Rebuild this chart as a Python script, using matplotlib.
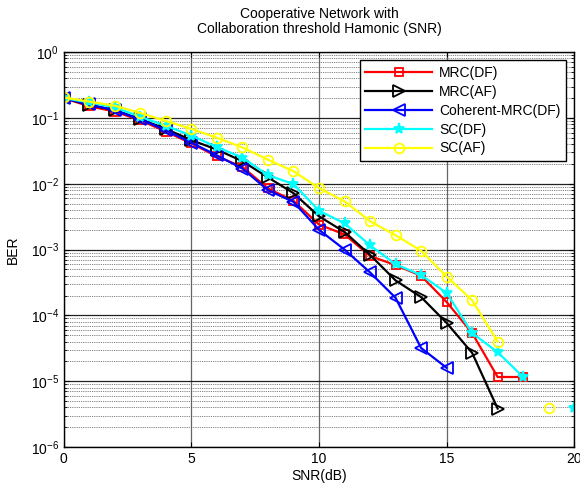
import numpy as np
import matplotlib
matplotlib.use("Agg")
import matplotlib.pyplot as plt
from matplotlib.ticker import LogLocator, NullFormatter

plt.rcParams['font.family'] = ['Liberation Sans', 'DejaVu Sans']

snr = np.arange(0, 21)
nan = np.nan

# BER curves (nan = no point drawn)
mrc_df = [0.2, 0.15, 0.125, 0.092, 0.062, 0.041, 0.026, 0.018, 0.0085, 0.0055,
          0.0024, 0.0017, 0.0008, 0.00058, 0.0004, 0.00016, 5.4e-5, 1.16e-5, 1.16e-5, nan, nan]
mrc_af = [0.2, 0.157, 0.132, 0.096, 0.068, 0.046, 0.033, 0.022, 0.0125, 0.0072,
          0.0032, 0.00185, 0.00083, 0.00034, 0.00019, 7.7e-5, 2.7e-5, 3.85e-6, nan, nan, nan]
coh_mrc_df = [0.2, 0.16, 0.13, 0.095, 0.065, 0.042, 0.027, 0.017, 0.008, 0.0053,
              0.002, 0.001, 0.00045, 0.000185, 3.2e-5, 1.6e-5, nan, nan, nan, nan, nan]
sc_df = [0.2, 0.172, 0.145, 0.104, 0.076, 0.054, 0.036, 0.025, 0.0135, 0.0099,
         0.0039, 0.0025, 0.00116, 0.0006, 0.00041, 0.00022, 5.4e-5, 2.76e-5, 1.16e-5, nan, 3.9e-6]
sc_af = [0.205, 0.177, 0.153, 0.119, 0.09, 0.068, 0.05, 0.0356, 0.0232, 0.0155,
         0.0086, 0.0054, 0.0027, 0.00165, 0.00096, 0.00039, 0.00017, 4e-5, nan, 3.9e-6, nan]

fig = plt.figure(figsize=(5.8, 4.87), dpi=100)
ax = fig.add_axes([0.110, 0.082, 0.880, 0.811])

ax.semilogy(snr, mrc_df, '-s', color='red', lw=1.6, ms=6, mfc='none', mew=1.3, label='MRC(DF)')
ax.semilogy(snr, mrc_af, '->', color='black', lw=1.6, ms=8, mfc='none', mew=1.3, label='MRC(AF)')
ax.semilogy(snr, coh_mrc_df, '-<', color='blue', lw=1.6, ms=8, mfc='none', mew=1.3, label='Coherent-MRC(DF)')
ax.semilogy(snr, sc_df, '-*', color='cyan', lw=1.6, ms=8, mew=1.3, label='SC(DF)')
ax.semilogy(snr, sc_af, '-o', color='yellow', lw=1.6, ms=7, mfc='none', mew=1.3, label='SC(AF)')

ax.set_xlim(0, 20)
ax.set_ylim(1e-6, 1)
ax.set_xticks([0, 5, 10, 15, 20])
ax.yaxis.set_major_locator(LogLocator(base=10, numticks=10))
ax.yaxis.set_minor_locator(LogLocator(base=10, subs=np.arange(2, 10), numticks=10))
ax.yaxis.set_minor_formatter(NullFormatter())

ax.grid(True, which='major', axis='x', color='#666666', lw=0.9, ls='-')
ax.grid(True, which='major', axis='y', color='#222222', lw=0.9, ls='-')
ax.grid(True, which='minor', axis='y', color='#555555', lw=0.6, ls=(0, (1, 1.2)))
ax.tick_params(which='both', direction='in', top=True, right=True, labelsize=10)
for s in ax.spines.values():
    s.set_linewidth(1.0)

ax.set_xlabel('SNR(dB)', fontsize=10, labelpad=2)
ax.set_ylabel('BER', fontsize=10, labelpad=8)
ax.set_title('Cooperative Network with\nCollaboration threshold Hamonic (SNR)', fontsize=10, pad=14, linespacing=1.1)

leg = ax.legend(loc='upper right', fontsize=10, fancybox=False, framealpha=1,
                edgecolor='black', handlelength=4.8, borderaxespad=0.6, labelspacing=0.35,
                handletextpad=0.5)
leg.get_frame().set_linewidth(1.0)

fig.savefig('out.png', dpi=100)
